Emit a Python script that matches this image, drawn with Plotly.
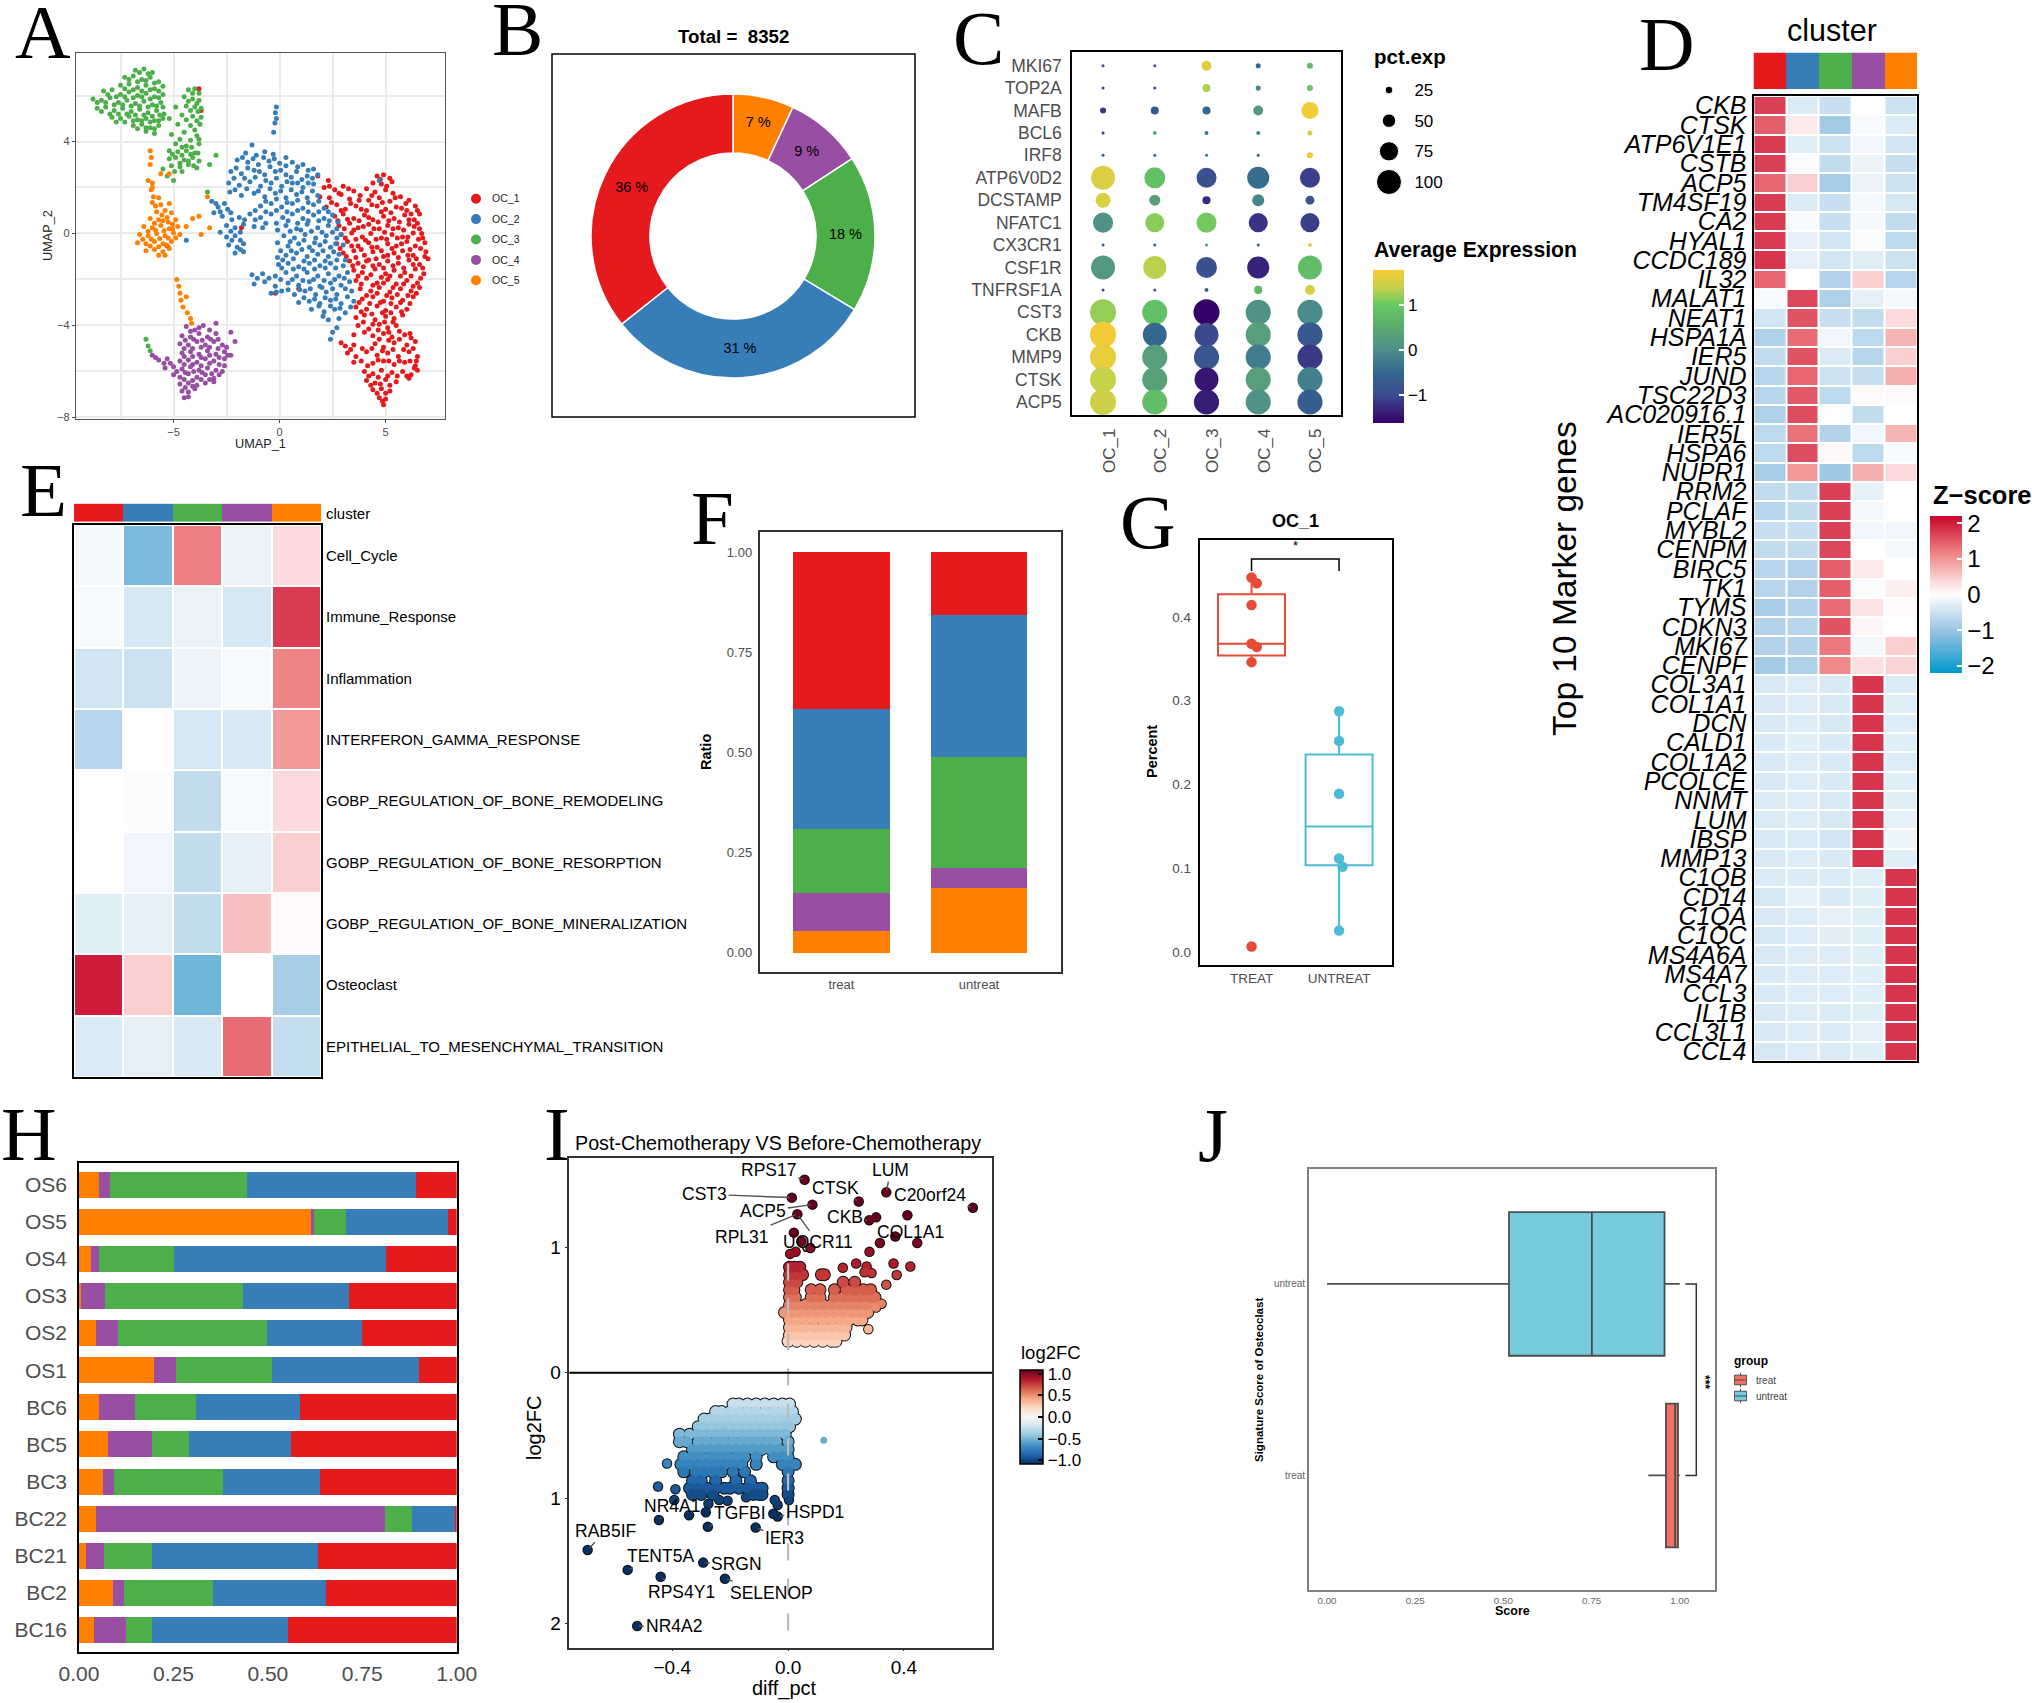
import plotly.graph_objects as go

W, H = 2032, 1703
SET1 = ["#E41A1C", "#377EB8", "#4DAF4A", "#984EA3", "#FF7F00"]
CLUSTERS = ["OC_1", "OC_2", "OC_3", "OC_4", "OC_5"]
SANS = "Liberation Sans"
GREY = "#4d4d4d"

# ---------- A: UMAP points ----------
umap_oc1 = [(4.6,2.5),(4.9,2.55),(5.2,2.4),(2.3,2.3),(4.4,2.2),(4.8,2.15),(5.3,2.25),(2.1,2.0),(2.6,1.9),(3.0,2.05),(3.5,1.85),(4.1,1.95),(4.5,1.8),(5.0,1.9),(5.35,1.75),
(1.9,1.6),(2.35,1.55),(2.9,1.7),(3.3,1.5),(3.8,1.65),(4.2,1.45),(4.7,1.55),(5.2,1.4),(5.7,1.6),(6.1,1.45),(2.2,1.15),(2.7,1.25),(3.1,1.05),(3.6,1.2),(4.1,1.0),(4.6,1.2),(5.0,1.05),(5.5,1.15),(6.0,1.0),(6.4,1.2),
(2.6,0.75),(3.0,0.85),(3.5,0.65),(4.0,0.8),(4.4,0.6),(4.9,0.75),(5.4,0.65),(5.9,0.8),(6.35,0.6),(6.6,0.85),(2.8,0.35),(3.3,0.45),(3.7,0.25),(4.2,0.4),(4.7,0.2),(5.1,0.35),(5.6,0.25),(6.1,0.4),(6.6,0.2),
(2.9,-0.05),(3.4,0.02),(3.9,-0.15),(4.3,0.0),(4.8,-0.2),(5.3,-0.05),(5.8,-0.15),(6.3,0.02),(6.75,-0.2),(2.7,-0.45),(3.2,-0.35),(3.7,-0.55),(4.2,-0.4),(4.6,-0.6),(5.1,-0.45),(5.5,-0.55),(6.0,-0.35),(6.4,-0.55),(6.85,-0.4),
(3.0,-0.85),(3.5,-0.75),(4.0,-0.95),(4.4,-0.8),(4.9,-1.0),(5.4,-0.85),(5.8,-0.75),(6.3,-0.95),(6.9,-0.8),(3.3,-1.2),(3.7,-1.3),(4.2,-1.15),(4.7,-1.35),(5.1,-1.2),(5.6,-1.3),(6.1,-1.15),(6.6,-1.35),(7.0,-1.1),
(3.5,-1.6),(3.9,-1.7),(4.5,-1.55),(5.0,-1.75),(5.4,-1.6),(5.9,-1.7),(6.4,-1.55),(6.8,-1.75),(3.6,-2.05),(4.1,-1.95),(4.6,-2.15),(5.1,-2.0),(5.5,-2.2),(6.0,-2.05),(6.5,-2.15),(3.8,-2.4),(4.3,-2.5),(4.7,-2.35),(5.2,-2.55),(5.7,-2.4),(6.2,-2.5),(6.6,-2.35),
(3.9,-2.85),(4.4,-2.75),(4.9,-2.95),(5.3,-2.8),(5.8,-2.9),(6.3,-2.75),(3.6,-3.2),(4.1,-3.3),(4.6,-3.15),(5.0,-3.35),(5.5,-3.2),(6.0,-3.3),(3.6,-3.65),(4.0,-3.55),(4.5,-3.75),(5.0,-3.6),(5.4,-3.7),(5.8,-3.55),
(3.7,-4.0),(4.2,-4.15),(4.7,-3.95),(5.1,-4.1),(5.5,-4.0),(2.9,-4.75),(3.5,-4.4),(4.4,-4.45),(4.9,-4.35),(5.3,-4.5),(5.9,-4.4),(6.2,-4.55),(3.1,-4.9),(3.5,-4.85),(4.5,-4.8),(4.9,-4.95),(5.4,-4.75),(6.0,-4.85),(6.4,-4.7),
(3.2,-5.2),(3.6,-5.35),(4.1,-5.15),(4.6,-5.3),(5.1,-5.2),(5.6,-5.35),(6.1,-5.15),(6.5,-5.35),(3.5,-5.6),(4.4,-5.65),(4.9,-5.55),(5.4,-5.7),(5.9,-5.6),(6.4,-5.75),(4.0,-6.0),(4.4,-6.1),(4.8,-5.95),(5.3,-6.05),(5.8,-6.0),(6.2,-6.15),(6.5,-5.95),
(4.1,-6.4),(4.5,-6.5),(5.0,-6.35),(5.5,-6.45),(6.1,-6.3),(4.4,-6.8),(4.8,-6.75),(5.2,-6.85),(4.7,-7.15),(5.0,-7.2),(4.9,-7.45),(-3.8,6.3),(-3.7,5.35),(-5.3,-0.55),(-0.2,-2.6),(-1.8,0.25),(0.9,-2.4),(1.8,2.5)]
umap_oc1_more = [(4.75,2.35),(5.05,2.05),(2.35,2.05),(2.8,1.75),(3.25,1.95),(3.75,1.45),(4.35,1.65),(4.85,1.35),(5.45,1.55),(5.95,1.3),(2.45,1.35),(2.9,1.0),(3.35,1.3),(3.85,1.05),(4.35,1.25),(4.8,0.95),(5.25,0.9),(5.75,1.1),(6.2,0.85),(6.5,1.0),
(2.75,0.55),(3.2,0.62),(3.75,0.55),(4.2,0.7),(4.65,0.5),(5.15,0.55),(5.65,0.5),(6.1,0.6),(6.5,0.45),(3.05,0.2),(3.5,0.15),(3.95,0.3),(4.45,0.2),(4.95,0.05),(5.35,0.2),(5.85,0.15),(6.35,0.3),(6.7,0.0),
(3.1,-0.2),(3.6,-0.25),(4.05,-0.3),(4.55,-0.25),(5.05,-0.25),(5.55,-0.2),(6.05,-0.15),(6.55,-0.25),(2.85,-0.65),(3.4,-0.55),(3.85,-0.7),(4.35,-0.6),(4.8,-0.75),(5.3,-0.65),(5.75,-0.45),(6.15,-0.7),(6.65,-0.65),
(3.15,-1.0),(3.6,-1.05),(4.1,-1.2),(4.55,-1.1),(5.1,-0.95),(5.6,-1.05),(6.05,-0.95),(6.45,-1.1),(6.85,-1.0),(3.45,-1.4),(3.95,-1.45),(4.4,-1.4),(4.9,-1.5),(5.35,-1.4),(5.85,-1.5),(6.3,-1.35),(6.75,-1.5),
(3.7,-1.85),(4.3,-1.8),(4.8,-1.9),(5.2,-1.85),(5.7,-1.85),(6.2,-1.85),(6.65,-1.95),(3.85,-2.2),(4.4,-2.25),(4.9,-2.15),(5.35,-2.35),(5.85,-2.2),(6.3,-2.3),(4.1,-2.7),(4.6,-2.6),(5.05,-2.7),(5.55,-2.65),(6.05,-2.7),(6.45,-2.6),
(3.75,-3.0),(4.25,-3.05),(4.75,-3.0),(5.25,-3.05),(5.7,-3.0),(6.15,-3.05),(3.85,-3.4),(4.35,-3.5),(4.85,-3.45),(5.25,-3.45),(5.75,-3.4),(3.95,-3.85),(4.4,-3.95),(4.95,-3.85),(5.35,-3.85),(4.0,-4.3),(4.65,-4.2),(5.15,-4.3),(5.65,-4.25),
(4.7,-4.6),(5.15,-4.65),(5.65,-4.6),(6.15,-4.35),(3.35,-5.05),(3.9,-5.0),(4.35,-5.0),(4.85,-5.1),(5.35,-5.05),(5.85,-5.05),(6.3,-5.0),(3.85,-5.55),(4.15,-5.75),(4.65,-5.5),(5.15,-5.55),(5.65,-5.55),(6.15,-5.55),(6.45,-5.55),
(4.2,-6.2),(4.65,-6.25),(5.1,-6.2),(5.55,-6.2),(6.0,-6.2),(6.35,-5.85),(4.3,-6.6),(4.75,-6.55),(5.2,-6.6),(4.6,-6.95),(5.0,-6.95),(4.85,-7.3)]

umap_oc2 = [(-0.15,5.5),(-0.2,5.25),(-0.15,5.0),(-0.22,4.8),(-0.28,4.4),(-1.3,3.85),(-1.6,3.5),(-0.7,3.55),(-1.1,3.4),(-0.3,3.45),(0.3,3.3),
(-2.0,3.2),(-1.5,3.1),(-1.0,3.0),(-0.5,3.15),(0.0,3.05),(0.6,3.1),(1.1,3.0),(1.6,2.8),(-2.3,2.7),(-1.8,2.6),(-1.2,2.75),(-0.7,2.55),(-0.2,2.7),(0.3,2.55),(0.8,2.7),(1.3,2.5),(1.8,2.55),
(-2.4,2.2),(-1.9,2.1),(-1.4,2.25),(-0.9,2.05),(-0.4,2.2),(0.1,2.05),(0.6,2.2),(1.1,2.0),(1.6,2.15),(-2.35,1.8),(-1.8,1.65),(-1.2,1.75),(-0.7,1.6),(-0.2,1.75),(0.3,1.55),(0.8,1.7),(1.3,1.55),(1.8,1.65),
(-3.2,1.4),(-2.9,1.15),(-2.6,1.3),(-0.9,1.2),(-0.4,1.3),(0.1,1.15),(0.6,1.3),(1.1,1.1),(1.6,1.25),(2.1,1.1),(-3.1,0.9),(-2.7,0.75),(-2.3,0.9),(-1.9,0.7),(-1.4,0.85),(-0.9,0.7),(-0.4,0.85),(0.15,0.7),(0.6,0.85),(1.1,0.65),(1.6,0.8),(2.1,0.65),(2.5,0.8),
(-2.5,0.35),(-2.1,0.25),(-1.7,0.4),(-1.2,0.3),(0.3,0.35),(0.8,0.2),(1.3,0.4),(1.8,0.25),(2.3,0.35),(2.7,0.2),(-2.8,0.05),(-2.5,-0.15),(-2.1,-0.1),(0.2,-0.1),(0.7,-0.2),(1.2,-0.05),(1.7,-0.2),(2.2,-0.1),(2.7,-0.2),
(-2.4,-0.5),(-2.0,-0.6),(-1.7,-0.45),(0.4,-0.55),(0.9,-0.45),(1.4,-0.6),(1.9,-0.5),(2.4,-0.6),(3.0,-0.5),(-2.1,-0.85),(-1.7,-0.8),(0.3,-0.95),(0.8,-0.85),(1.3,-1.0),(1.8,-0.9),(2.3,-1.0),(2.8,-0.9),
(-0.05,-1.35),(0.4,-1.3),(0.9,-1.45),(1.4,-1.3),(1.9,-1.4),(2.4,-1.3),(3.0,-1.4),(-1.3,-1.8),(-0.8,-1.75),(-0.2,-1.85),(0.3,-1.7),(0.8,-1.85),(1.3,-1.7),(1.8,-1.85),(2.3,-1.75),(2.8,-1.85),(3.2,-1.7),
(-1.2,-2.2),(-0.7,-2.1),(-0.2,-2.3),(0.4,-2.15),(0.9,-2.25),(1.4,-2.1),(1.9,-2.3),(2.4,-2.15),(2.9,-2.25),(3.3,-2.1),(-0.4,-2.6),(0.1,-2.5),(0.7,-2.65),(1.2,-2.5),(1.7,-2.65),(2.2,-2.55),(2.7,-2.65),(3.4,-2.5),
(0.9,-3.0),(1.4,-2.95),(1.9,-3.05),(2.4,-2.9),(2.9,-3.05),(3.5,-2.95),(1.5,-3.3),(2.1,-3.4),(2.6,-3.3),(3.1,-3.45),(2.3,-3.75),(2.8,-3.7),(2.5,-4.3),(2.4,-4.6),(2.7,-4.1),(4.7,2.3),(-4.4,-0.3)]
umap_oc2_more = [(-1.75,3.3),(-1.25,3.25),(-0.75,3.3),(-0.25,3.25),(0.3,2.95),(0.85,2.9),(1.35,2.75),(-2.05,2.85),(-1.5,2.85),(-0.95,2.7),(-0.45,2.9),(0.05,2.75),(0.55,2.45),(1.05,2.35),(1.55,2.4),
(-2.15,2.4),(-1.65,2.4),(-1.15,2.45),(-0.65,2.3),(-0.15,2.4),(0.35,2.25),(0.85,2.2),(1.35,2.2),(-2.1,1.9),(-1.55,1.95),(-1.0,1.85),(-0.45,1.95),(0.05,1.85),(0.55,1.9),(1.05,1.8),(1.55,1.85),(-0.65,1.4),(-0.15,1.5),(0.35,1.35),(0.85,1.45),(1.35,1.35),(1.85,1.4),
(-3.0,1.3),(-2.8,0.95),(-2.45,1.05),(-1.15,1.0),(-0.65,0.95),(-0.15,1.0),(0.35,0.95),(0.85,1.0),(1.35,0.95),(1.85,0.95),(2.3,0.95),(-2.25,0.6),(-1.65,0.6),(-1.15,0.6),(-0.65,0.45),(-0.15,0.45),(0.4,0.55),(0.85,0.45),(1.35,0.55),(1.85,0.55),(2.35,0.55),(2.75,0.5),
(-2.3,0.1),(-1.85,0.05),(-0.8,0.25),(-0.1,0.15),(0.5,0.1),(1.0,0.15),(1.5,0.1),(2.0,0.05),(2.5,0.05),(2.9,-0.05),(-2.25,-0.3),(-1.85,-0.3),(-0.1,-0.4),(0.05,-0.75),(0.5,-0.35),(1.15,-0.3),(1.65,-0.4),(2.15,-0.35),(2.65,-0.45),
(-1.85,-0.7),(-0.1,-1.05),(0.55,-0.75),(1.05,-0.7),(1.55,-0.75),(2.05,-0.75),(2.55,-0.8),(0.15,-1.15),(0.65,-1.1),(1.15,-1.2),(1.65,-1.15),(2.15,-1.2),(2.7,-1.15),(3.1,-1.15),(0.1,-1.5),(0.65,-1.55),(1.15,-1.55),(1.65,-1.55),(2.15,-1.5),(2.65,-1.5),
(-1.05,-1.95),(-0.5,-1.95),(0.05,-2.0),(0.6,-2.0),(1.1,-2.05),(1.6,-2.0),(2.1,-2.05),(2.6,-2.0),(3.05,-1.95),(-0.15,-2.55),(0.4,-2.45),(0.95,-2.45),(1.45,-2.4),(2.0,-2.35),(2.5,-2.4),(3.1,-2.4),(1.15,-2.8),(1.65,-2.85),(2.15,-2.8),(2.65,-2.85),(3.2,-2.75),(1.85,-3.15),(2.4,-3.15),(2.85,-3.25),(3.35,-3.2),(2.05,-3.6)]

umap_oc3 = [(-6.8,7.1),(-6.4,7.15),(-6.0,7.0),(-7.3,6.8),(-6.9,6.85),(-6.5,6.7),(-6.1,6.8),(-5.7,6.6),(-7.5,6.45),(-7.1,6.5),(-6.7,6.35),(-6.3,6.45),(-5.9,6.3),(-5.5,6.4),(-8.3,6.2),(-7.9,6.25),(-7.5,6.05),(-7.1,6.15),(-6.7,6.0),(-6.3,6.1),(-5.9,5.95),(-5.5,6.05),
(-8.8,5.85),(-8.4,5.8),(-8.0,5.9),(-7.6,5.7),(-7.2,5.8),(-6.8,5.65),(-6.4,5.75),(-6.0,5.6),(-5.6,5.7),(-8.6,5.45),(-8.2,5.5),(-7.8,5.35),(-7.4,5.45),(-7.0,5.3),(-6.6,5.4),(-6.2,5.25),(-5.8,5.35),(-5.45,5.2),
(-7.9,5.05),(-7.5,5.0),(-7.1,5.1),(-6.7,4.95),(-6.3,5.0),(-5.9,4.9),(-5.5,5.0),(-6.9,4.7),(-6.5,4.75),(-6.1,4.6),(-5.7,4.7),(-6.3,4.45),(-5.9,4.35),
(-4.3,6.25),(-4.0,6.3),(-3.8,6.1),(-4.5,5.95),(-4.1,5.85),(-3.8,5.8),(-4.9,5.5),(-4.4,5.55),(-4.0,5.5),(-3.7,5.45),(-5.2,5.0),(-4.6,5.15),(-4.1,5.1),(-3.7,5.05),(-4.8,4.75),(-4.2,4.7),(-3.75,4.75),(-5.1,4.3),(-4.5,4.4),(-3.9,4.25),
(-4.9,3.9),(-4.4,3.8),(-3.8,3.9),(-5.2,3.6),(-4.8,3.55),(-4.4,3.6),(-4.0,3.5),(-5.2,3.25),(-4.9,3.3),(-4.5,3.2),(-4.1,3.3),(-3.8,3.15),(-5.1,2.95),(-4.7,2.9),(-4.3,3.0),(-3.9,2.85),(-5.5,2.8),(-5.3,2.5),(-4.6,2.7),(-5.0,2.3),(-3.4,1.8),(-6.3,-4.6),(-6.2,-4.9),(-6.1,-5.1),(-3.0,3.4),(-3.3,3.0)]
umap_oc3_more = [(-6.6,7.0),(-6.2,6.95),(-7.1,6.7),(-6.7,6.6),(-6.3,6.65),(-5.9,6.55),(-7.3,6.3),(-6.9,6.25),(-6.5,6.2),(-6.1,6.25),(-5.7,6.2),(-8.1,6.05),(-7.7,5.95),(-7.3,5.95),(-6.9,5.9),(-6.5,5.95),(-6.1,5.85),(-5.7,5.9),
(-8.6,5.7),(-8.2,5.7),(-7.8,5.6),(-7.4,5.6),(-7.0,5.55),(-6.6,5.55),(-6.2,5.5),(-5.8,5.55),(-5.5,5.5),(-8.4,5.3),(-8.0,5.2),(-7.6,5.2),(-7.2,5.2),(-6.8,5.15),(-6.4,5.15),(-6.0,5.1),(-5.65,5.15),(-7.7,4.85),(-7.3,4.85),(-6.9,4.9),(-6.5,4.9),(-6.1,4.85),(-5.7,4.9),(-6.7,4.55),(-6.3,4.6),(-5.9,4.55),
(-4.1,6.1),(-4.3,5.75),(-3.9,5.65),(-4.2,5.35),(-3.85,5.3),(-3.9,4.9),(-4.4,4.95),(-4.0,4.5),(-4.7,4.1),(-4.2,4.05),(-3.8,4.1),(-4.6,3.75),(-4.15,3.75),(-5.05,3.45),(-4.6,3.4),(-4.2,3.45),(-3.85,3.5),(-4.7,3.05),(-4.3,3.15),(-4.05,2.95),(-4.95,2.7)]

umap_oc4 = [(-4.4,-4.05),(-4.0,-4.2),(-3.6,-4.0),(-3.0,-3.9),(-4.6,-4.45),(-4.2,-4.5),(-3.8,-4.35),(-3.4,-4.5),(-3.0,-4.35),(-2.3,-4.3),(-4.7,-4.8),(-4.3,-4.85),(-3.9,-4.7),(-3.5,-4.85),(-3.1,-4.7),(-2.7,-4.85),(-2.1,-4.7),
(-6.0,-5.3),(-4.6,-5.2),(-4.2,-5.15),(-3.8,-5.25),(-3.4,-5.1),(-3.0,-5.25),(-2.6,-5.15),(-5.7,-5.5),(-5.3,-5.45),(-4.7,-5.55),(-4.3,-5.5),(-3.9,-5.6),(-3.5,-5.45),(-3.1,-5.55),(-2.6,-5.45),(-2.3,-5.3),
(-5.4,-5.85),(-5.0,-5.8),(-4.6,-5.9),(-4.2,-5.8),(-3.8,-5.95),(-3.4,-5.85),(-3.0,-5.95),(-2.6,-5.75),(-5.0,-6.15),(-4.7,-6.25),(-4.3,-6.1),(-3.9,-6.25),(-3.5,-6.15),(-3.1,-6.3),(-2.7,-6.0),
(-4.7,-6.55),(-4.3,-6.5),(-3.9,-6.6),(-3.5,-6.5),(-3.1,-6.45),(-4.6,-6.85),(-4.3,-6.9),(-4.0,-6.75),(-4.5,-7.15),(-4.3,-7.1)]
umap_oc4_more = [(-4.2,-4.25),(-3.8,-4.1),(-3.3,-4.2),(-4.45,-4.65),(-4.05,-4.6),(-3.65,-4.65),(-3.25,-4.6),(-2.9,-4.6),(-4.5,-5.0),(-4.1,-5.0),(-3.7,-4.95),(-3.3,-4.95),(-2.9,-5.0),(-2.5,-4.95),(-5.85,-5.4),(-5.45,-5.65),(-4.5,-5.35),(-4.1,-5.35),(-3.7,-5.4),(-3.3,-5.3),(-2.85,-5.4),(-2.45,-5.3),
(-5.15,-5.65),(-4.5,-5.7),(-4.1,-5.7),(-3.7,-5.75),(-3.3,-5.65),(-2.85,-5.7),(-4.85,-6.0),(-4.45,-6.05),(-4.05,-6.0),(-3.65,-6.05),(-3.2,-6.1),(-2.85,-6.15),(-4.5,-6.35),(-4.1,-6.4),(-3.7,-6.35),(-3.3,-6.35),(-4.45,-6.7),(-4.1,-6.65)]

umap_oc5 = [(-6.1,3.6),(-6.05,3.3),(-6.1,3.0),(-5.2,2.6),(-5.6,2.6),(-6.2,2.3),(-6.0,2.2),(-6.05,1.9),(-5.95,1.6),(-5.7,1.55),(-6.0,1.35),(-5.6,1.25),(-5.2,1.3),(-3.4,1.6),(-5.8,0.95),(-5.4,1.0),(-5.1,0.9),
(-6.1,0.65),(-5.7,0.6),(-5.3,0.7),(-4.9,0.6),(-4.1,0.65),(-3.8,0.75),(-6.4,0.3),(-6.0,0.25),(-5.6,0.35),(-5.2,0.2),(-4.8,0.3),(-4.4,0.3),(-3.3,0.25),(-6.6,-0.05),(-6.2,-0.1),(-5.8,0.0),(-5.4,-0.1),(-5.0,0.02),(-4.7,-0.05),(-3.7,-0.05),
(-6.7,-0.4),(-6.3,-0.45),(-5.9,-0.35),(-5.5,-0.45),(-5.1,-0.35),(-6.3,-0.75),(-5.9,-0.7),(-5.5,-0.8),(-5.2,-0.65),(-5.4,-0.95),(-4.85,-2.0),(-4.75,-2.3),(-4.7,-2.6),(-4.65,-2.9),(-4.4,-2.75),(-4.55,-3.2),(-4.35,-3.45),(-4.2,-3.7),(-4.15,-3.9)]
umap_oc5_more = [(-5.55,0.8),(-5.25,0.5),(-5.9,0.45),(-5.5,0.55),(-5.05,0.4),(-6.2,0.1),(-5.85,0.15),(-5.45,0.12),(-5.05,0.2),(-6.45,-0.25),(-6.05,-0.25),(-5.65,-0.22),(-5.25,-0.2),(-4.9,-0.2),(-6.1,-0.55),(-5.7,-0.58),(-5.35,-0.5),(-5.7,-0.95),(-6.0,2.0),(-5.85,1.2)]

umap_all = [umap_oc1 + umap_oc1_more, umap_oc2 + umap_oc2_more, umap_oc3 + umap_oc3_more, umap_oc4 + umap_oc4_more, umap_oc5 + umap_oc5_more]

# ---------- B ----------
donut_labels = ["OC_5", "OC_4", "OC_3", "OC_2", "OC_1"]
donut_values = [7, 9, 18, 31, 36]
donut_text = ["7 %", "9 %", "18 %", "31 %", "36 %"]

# ---------- C ----------
dot_genes = ["MKI67","TOP2A","MAFB","BCL6","IRF8","ATP6V0D2","DCSTAMP","NFATC1","CX3CR1","CSF1R","TNFRSF1A","CST3","CKB","MMP9","CTSK","ACP5"]
dot_pct = [[0,0,30,9,13],[0,0,22,9,13],[13,22,22,30,61],[0,4,4,4,9],[0,0,0,0,13],
           [91,78,74,83,74],[52,35,22,39,26],[74,70,74,70,70],[0,0,0,0,4],[91,87,78,83,91],
           [0,0,4,22,30],[100,96,100,96,96],[100,91,91,96,96],[100,96,96,96,96],[100,96,91,96,96],[100,96,96,96,96]]
dot_avg = [[-0.9,-0.9,1.6,-0.5,0.8],[-1,-1,1.3,-0.1,0.9],[-1.2,-0.7,-0.5,0.2,1.75],[-1.2,0.4,-0.3,-0.2,1.5],[-0.7,-0.5,-0.4,-0.6,1.7],
           [1.55,0.85,-0.9,-0.45,-1.1],[1.55,0.3,-1.3,-0.1,-0.8],[0.05,1.15,1.05,-1.2,-1.1],[-0.8,-0.5,0.3,-0.7,1.6],[0.2,1.35,-0.9,-1.35,0.8],
           [-0.9,-0.9,-0.8,0.7,1.55],[1.2,0.85,-1.6,0.05,-0.05],[1.75,-0.5,-1.0,0.3,-0.75],[1.65,0.3,-0.8,-0.25,-1.15],[1.4,0.35,-1.45,0.3,-0.2],[1.45,0.8,-1.4,0.05,-0.7]]
pct_levels = [25, 50, 75, 100]

# ---------- D ----------
marker_genes = ["CKB","CTSK","ATP6V1E1","CSTB","ACP5","TM4SF19","CA2","HYAL1","CCDC189","IL32","MALAT1","NEAT1","HSPA1A","IER5","JUND","TSC22D3","AC020916.1","IER5L","HSPA6","NUPR1",
 "RRM2","PCLAF","MYBL2","CENPM","BIRC5","TK1","TYMS","CDKN3","MKI67","CENPF","COL3A1","COL1A1","DCN","CALD1","COL1A2","PCOLCE","NNMT","LUM","IBSP","MMP13",
 "C1QB","CD14","C1QA","C1QC","MS4A6A","MS4A7","CCL3","IL1B","CCL3L1","CCL4"]
marker_z = [[1.7,-.35,-.55,0,-.5],[1.45,.2,-.9,-.07,-.35],[1.75,-.3,-.5,-.15,-.45],[1.7,-.05,-.6,-.2,-.55],[1.4,.45,-.85,-.2,-.5],
 [1.75,-.35,-.55,-.12,-.4],[1.75,-.07,-.55,-.1,-.6],[1.75,-.25,-.45,-.05,-.65],[1.8,-.25,-.45,-.3,-.5],[1.4,0,-.75,.45,-.7],
 [-.07,1.65,-.8,-.27,-.12],[-.45,1.55,-.55,-.6,.35],[-.8,1.35,-.15,-.65,.7],[-.6,1.55,-.35,-.7,.45],[-.7,1.4,-.5,-.55,.75],
 [-.7,1.5,-.65,.05,.05],[-.8,1.6,-.03,-.6,0],[-.65,1.3,-.75,-.15,.7],[-.65,1.6,.07,-.65,-.07],[-.85,.95,-.95,.75,.35],
 [-.6,-.6,1.7,-.25,0],[-.7,-.6,1.7,-.12,-.04],[-.55,-.55,1.7,-.15,-.15],[-.6,-.6,1.65,0,-.1],[-.7,-.75,1.45,.2,0],
 [-.7,-.75,1.45,-.05,.15],[-.85,-.75,1.35,.25,.05],[-.75,-.7,1.55,.08,-.04],[-.75,-.75,1.25,-.13,.45],[-.9,-.8,1.1,.3,.4],
 [-.37,-.33,-.37,1.8,-.35],[-.37,-.33,-.37,1.8,-.3],[-.37,-.33,-.4,1.8,-.33],[-.37,-.3,-.37,1.8,-.3],[-.37,-.33,-.37,1.8,-.33],
 [-.37,-.33,-.37,1.8,-.3],[-.35,-.33,-.37,1.8,-.28],[-.35,-.33,-.4,1.8,-.25],[-.37,-.35,-.45,1.8,-.18],[-.37,-.33,-.37,1.8,-.3],
 [-.35,-.35,-.35,-.3,1.8],[-.42,-.25,-.37,-.3,1.8],[-.37,-.33,-.27,-.3,1.8],[-.4,-.33,-.28,-.3,1.8],[-.37,-.33,-.33,-.3,1.8],
 [-.37,-.33,-.33,-.3,1.8],[-.37,-.33,-.33,-.3,1.8],[-.37,-.33,-.35,-.3,1.8],[-.37,-.33,-.35,-.25,1.8],[-.42,-.33,-.35,-.3,1.8]]

# ---------- E ----------
pathways = ["Cell_Cycle","Immune_Response","Inflammation","INTERFERON_GAMMA_RESPONSE","GOBP_REGULATION_OF_BONE_REMODELING",
            "GOBP_REGULATION_OF_BONE_RESORPTION","GOBP_REGULATION_OF_BONE_MINERALIZATION","Osteoclast","EPITHELIAL_TO_MESENCHYMAL_TRANSITION"]
pathway_z = [[-.1,-1.25,1.2,-.2,.35],[-.08,-.4,-.2,-.4,1.75],[-.45,-.5,-.17,-.08,1.15],[-.7,.02,-.4,-.38,.95],[-.03,-.05,-.6,-.08,.35],
             [0,-.15,-.6,-.27,.45],[-.3,-.25,-.6,.6,.05],[2.0,.45,-1.35,0,-.85],[-.35,-.27,-.38,1.35,-.58]]

# ---------- F ----------
ratio_groups = ["treat", "untreat"]
ratio_oc5 = [0.054, 0.161]
ratio_oc4 = [0.094, 0.050]
ratio_oc3 = [0.161, 0.278]
ratio_oc2 = [0.298, 0.354]
ratio_oc1 = [0.393, 0.157]

# ---------- G ----------
g_treat_pts = [(1.0,.447),(1.06,.44),(1.0,.414),(1.0,.368),(1.06,.364),(1.0,.346),(1.0,.007)]
g_untreat_pts = [(2.0,.2875),(2.0,.252),(2.0,.189),(2.0,.112),(2.04,.102),(2.0,.026)]
g_treat_box = dict(q1=[.354], median=[.368], q3=[.427], lowerfence=[.346], upperfence=[.447])
g_untreat_box = dict(q1=[.104], median=[.150], q3=[.236], lowerfence=[.026], upperfence=[.2875])

# ---------- H ----------
samples = ["OS6","OS5","OS4","OS3","OS2","OS1","BC6","BC5","BC3","BC22","BC21","BC2","BC16"]
cum_oc5 = [.054,.613,.031,.006,.044,.198,.053,.076,.063,.044,.018,.090,.041]
cum_oc4 = [.082,.622,.054,.070,.103,.257,.149,.194,.093,.809,.066,.119,.125]
cum_oc3 = [.445,.708,.252,.433,.497,.511,.311,.290,.380,.881,.194,.355,.194]
cum_oc2 = [.891,.976,.813,.714,.750,.901,.586,.561,.637,.996,.633,.655,.554]

# ---------- I ----------
up_rows = [(.25,[0,.03,.06,.09,.12,.15,.165]),(.30,[.005,.03,.06,.085,.115,.145,.175,.195]),(.36,[.005,.03,.06,.09,.12,.15,.18,.2]),
 (.42,[.005,.03,.06,.09,.12,.15,.18,.21,.24,.255]),(.48,[-.012,.015,.04,.07,.1,.13,.16,.19,.22,.25,.275]),(.54,[.005,.03,.06,.09,.12,.15,.18,.21,.24,.27,.3]),
 (.60,[.005,.025,.08,.11,.16,.19,.22,.25,.28,.3]),(.66,[.005,.02,.08,.11,.16,.2,.23,.26,.285]),(.72,[.005,.03,.19,.23]),
 (.78,[.005,.025,.05,.115,.125]),(.84,[.005,.02,.04])]
up_single = [(.057,1.537),(.013,1.394),(.244,1.363),(.339,1.436),(.638,1.314),(.084,1.338),(.28,1.213),(.304,1.237),(.412,1.253),(.032,1.262),
 (.37,1.084),(.317,1.032),(.446,1.032),(.281,.962),(.02,1.115),(.046,1.044),(.007,.946),(.026,.962),(.077,.992),(.189,.836),(.235,.87),(.271,.845),
 (.288,.793),(.264,.799),(.364,.87),(.375,.778),(.422,.845),(.339,.701),(.304,.518),(.323,.548),(.277,.346)]
down_rows = [(-.25,[-.19,-.17,-.14,-.11,-.08,-.05,-.02,.005]),(-.31,[-.25,-.23,-.2,-.17,-.14,-.11,-.08,-.05,-.02,.015]),
 (-.37,[-.29,-.27,-.24,-.21,-.18,-.15,-.12,-.09,-.06,-.03,0,.025]),(-.43,[-.31,-.29,-.26,-.23,-.2,-.17,-.14,-.11,-.08,-.05,-.02,.005]),
 (-.49,[-.375,-.34,-.31,-.28,-.25,-.22,-.19,-.16,-.13,-.1,-.07,-.04,-.01]),(-.55,[-.375,-.35,-.31,-.28,-.25,-.22,-.19,-.16,-.13,-.1,-.07,-.04,0]),
 (-.61,[-.33,-.3,-.27,-.24,-.21,-.18,-.15,-.12,-.09,-.06,-.03,0]),(-.67,[-.36,-.33,-.3,-.27,-.24,-.21,-.18,-.15,-.11,-.05,-.02,0]),
 (-.73,[-.37,-.34,-.31,-.28,-.25,-.22,-.19,-.16,-.11,-.02,.01,.025]),(-.79,[-.36,-.32,-.29,-.26,-.23,-.19,-.15,0]),
 (-.86,[-.33,-.3,-.25,-.18,-.13,0]),(-.92,[-.34,-.31,-.28,-.25,-.22,-.2,-.17,-.14,-.11,-.09,0]),(-.97,[-.33,-.3,-.26,-.12,-.1,-.09,0])]
down_single = [(-.449,-.907),(-.389,-.928),(-.393,-1.014),(-.275,-1.044),(-.238,-1.014),(-.209,-1.02),(-.145,-.992),(-.046,-1.014),(-.036,-1.054),(.003,-1.014),
 (-.342,-1.136),(-.284,-1.112),(-.051,-1.124),(-.036,-1.145),(-.277,-1.228),(-.112,-1.234),(-.446,-1.173),(-.692,-1.412),(-.554,-1.571),(-.44,-1.626),
 (-.293,-1.513),(-.218,-1.642),(-.521,-2.018),(-.418,-.723),(-.363,-.784)]
lone_point = (.123, -.539)
volcano_labels = [("RPS17",.057,1.537,-.066,1.614),("CST3",.013,1.394,-.288,1.421),("CTSK",.244,1.363,.165,1.473),("LUM",.339,1.436,.354,1.614),
 ("C20orf24",.638,1.314,.49,1.415),("ACP5",.084,1.338,-.086,1.286),("CKB",.28,1.213,.198,1.237),("RPL31",.032,1.262,-.158,1.084),("UQCR11",.032,1.262,.103,1.038),
 ("COL1A1",.37,1.084,.422,1.118),("NR4A1",-.446,-1.173,-.4,-1.06),("TGFBI",-.277,-1.228,-.165,-1.121),("HSPD1",-.036,-1.145,.092,-1.109),("IER3",-.112,-1.234,-.013,-1.32),
 ("RAB5IF",-.692,-1.412,-.63,-1.259),("TENT5A",-.554,-1.571,-.44,-1.461),("SRGN",-.293,-1.513,-.177,-1.525),("RPS4Y1",-.44,-1.626,-.367,-1.743),
 ("SELENOP",-.218,-1.642,-.057,-1.752),("NR4A2",-.521,-2.018,-.395,-2.021)]

# ---------- J ----------
j_treat = dict(q1=[.961], median=[.987], q3=[.995], lowerfence=[.911], upperfence=[1.0])
j_untreat = dict(q1=[.516], median=[.751], q3=[.957], lowerfence=[0.0], upperfence=[1.0])
j_key_treat = dict(q1=[.2], median=[.5], q3=[.8], lowerfence=[.05], upperfence=[.95])
j_key_untreat = dict(q1=[1.2], median=[1.5], q3=[1.8], lowerfence=[1.05], upperfence=[1.95])

# ---------- helpers ----------
fig = go.Figure()
layout_axes, annotations, shapes = {}, [], []

def axes(n, box, xkw=None, ykw=None):
    x0, x1, y0, y1 = box
    xd = dict(domain=[x0 / W, x1 / W], anchor=f"y{n}", showgrid=False, zeroline=False)
    yd = dict(domain=[1 - y1 / H, 1 - y0 / H], anchor=f"x{n}", showgrid=False, zeroline=False)
    xd.update(xkw or {}); yd.update(ykw or {})
    layout_axes[f"xaxis{n}"] = xd
    layout_axes[f"yaxis{n}"] = yd
    return dict(xaxis=f"x{n}", yaxis=f"y{n}")

def text(t, x, y, size, color="black", bold=False, angle=0, family=SANS, xanchor="center"):
    s = f"<b>{t}</b>" if bold else t
    annotations.append(dict(text=s, x=x / W, y=1 - y / H, xref="paper", yref="paper", showarrow=False, textangle=angle,
                            xanchor=xanchor, yanchor="middle", font=dict(size=size, color=color, family=family)))

def frame(color="black", width=1.5):
    return dict(showline=True, mirror=True, linecolor=color, linewidth=width)

def tf(size, color=GREY):
    return dict(size=size, color=color, family=SANS)

NOTICK = "rgba(0,0,0,0)"

# panel letters
for letter, x, y in [("A",43,32),("B",517,29),("C",978,38),("D",1667,44),("E",43,490),("F",712,518),("G",1148,522),("H",29,1134),("I",557,1134),("J",1213,1135)]:
    text(letter, x, y, 77, family="Liberation Serif")

# A
a = axes(1, (76,445,53,419),
    dict(range=[-9.6,7.8], tickvals=[-5,0,5], showgrid=True, gridcolor="#ebebeb", gridwidth=1.5, minor=dict(tickvals=[-7.5,-2.5,2.5], showgrid=True, gridcolor="#ebebeb", gridwidth=1.5, ticks=""),
         ticks="outside", ticklen=3, tickcolor=GREY, tickfont=tf(11), **frame("#555555",1.2)),
    dict(range=[-8.07,7.85], tickvals=[-8,-4,0,4], showgrid=True, gridcolor="#ebebeb", gridwidth=1.5, minor=dict(tickvals=[-6,-2,2,6], showgrid=True, gridcolor="#ebebeb", gridwidth=1.5, ticks=""),
         ticks="outside", ticklen=3, tickcolor=GREY, tickfont=tf(11), **frame("#555555",1.2)))
for name, pts, col in zip(CLUSTERS, umap_all, SET1):
    fig.add_trace(go.Scatter(x=[p[0] for p in pts], y=[p[1] for p in pts], mode="markers", name=name,
                             marker=dict(color=col, size=5), showlegend=False, **a))
text("UMAP_1", 260, 444, 12.7, "#222222")
text("UMAP_2", 48, 236, 12.7, "#222222", angle=-90)
a_key = axes(13, (470,482,188.5,290.5), dict(range=[0,1], visible=False),
    dict(type="category", categoryorder="array", categoryarray=CLUSTERS, range=[4.5,-.5], side="right", tickfont=tf(10.5,"#222222"), ticks="outside", ticklen=7, tickcolor=NOTICK, showline=False))
fig.add_trace(go.Scatter(x=[.5]*5, y=CLUSTERS, mode="markers", marker=dict(color=SET1, size=10), showlegend=False, **a_key))

# B
fig.add_trace(go.Pie(labels=donut_labels, values=donut_values, text=donut_text, textinfo="text", sort=False, direction="clockwise", rotation=0, hole=0.585,
                     marker=dict(colors=[SET1[4],SET1[3],SET1[2],SET1[1],SET1[0]], line=dict(color="white", width=1.5)),
                     textposition="inside", insidetextorientation="horizontal", textfont=dict(size=14.5, color="black", family=SANS),
                     domain=dict(x=[591/W,875/W], y=[1-378/H,1-94/H]), showlegend=False))
shapes.append(dict(type="rect", xref="paper", yref="paper", x0=552/W, x1=915/W, y0=1-417/H, y1=1-54/H, line=dict(color="black", width=1.5)))
text("Total =  8352", 733, 36, 18.7, bold=True)

# C
c = axes(2, (1072,1341,52,415),
    dict(type="category", categoryorder="array", categoryarray=CLUSTERS, range=[-.6,4.6], tickangle=-90, tickfont=tf(17), ticks="outside", ticklen=5, tickcolor=NOTICK, ticklabelshift=6, **frame()),
    dict(type="category", categoryorder="array", categoryarray=dot_genes, range=[15.58,-.61], tickfont=tf(17.5), ticks="outside", ticklen=5, tickcolor=NOTICK, **frame()))
dx, dy, ds, dc = [], [], [], []
for gene, ps, vs in zip(dot_genes, dot_pct, dot_avg):
    for cl, p, v in zip(CLUSTERS, ps, vs):
        dx.append(cl); dy.append(gene); ds.append(3 + .23 * p); dc.append(v)
fig.add_trace(go.Scatter(x=dx, y=dy, mode="markers", marker=dict(size=ds, color=dc, coloraxis="coloraxis", opacity=1, line=dict(width=0)), showlegend=False, **c))
p_ax = axes(3, (1373,1405,75,197),
    dict(range=[0,1], visible=False),
    dict(type="category", categoryorder="array", categoryarray=[str(v) for v in pct_levels], range=[3.49,-.49], side="right", tickfont=tf(17,"black"), ticks="outside", ticklen=5, tickcolor=NOTICK, showline=False))
fig.add_trace(go.Scatter(x=[.5]*4, y=[str(v) for v in pct_levels], mode="markers", marker=dict(color="black", opacity=1, size=[3+.23*v-1 for v in pct_levels]), showlegend=False, **p_ax))
text("pct.exp", 1372, 56, 20.5, bold=True, xanchor="left")
text("Average Expression", 1372, 250, 21.2, bold=True, xanchor="left")

# D
topz = [[0,1,2,3,4]]
discrete = [[0,SET1[0]],[.2,SET1[0]],[.2,SET1[1]],[.4,SET1[1]],[.4,SET1[2]],[.6,SET1[2]],[.6,SET1[3]],[.8,SET1[3]],[.8,SET1[4]],[1,SET1[4]]]
dt = axes(4, (1753.5,1917,52.5,89), dict(visible=False), dict(visible=False))
fig.add_trace(go.Heatmap(z=topz, x=CLUSTERS, y=["cluster"], colorscale=discrete, zmin=0, zmax=4, showscale=False, **dt))
d = axes(5, (1753.5,1917,96,1061),
    dict(type="category", categoryorder="array", categoryarray=CLUSTERS, range=[-.5,4.5], showticklabels=False, **frame("black",2)),
    dict(type="category", categoryorder="array", categoryarray=marker_genes, range=[49.5,-.5], tickmode="array", tickvals=marker_genes, ticktext=marker_genes,
         tickfont=dict(size=25, color="black", family=SANS, style="italic"), ticks="", **frame("black",2)))
fig.add_trace(go.Heatmap(z=marker_z, x=CLUSTERS, y=marker_genes, coloraxis="coloraxis2", xgap=2, ygap=2, **d))
text("cluster", 1832, 30, 30.5)
text("Top 10 Marker genes", 1564, 579, 33.5, angle=-90)
text("Z−score", 1931, 495, 25.5, bold=True, xanchor="left")

# E
et = axes(6, (74,321,503.6,522), dict(visible=False), dict(visible=False))
fig.add_trace(go.Heatmap(z=topz, x=CLUSTERS, y=["cluster"], colorscale=discrete, zmin=0, zmax=4, showscale=False, **et))
e = axes(7, (74,321,525,1077),
    dict(type="category", categoryorder="array", categoryarray=CLUSTERS, range=[-.5,4.5], showticklabels=False, **frame("black",2)),
    dict(type="category", categoryorder="array", categoryarray=pathways, range=[8.5,-.5], side="right", tickfont=tf(15,"black"), ticks="", **frame("black",2)))
fig.add_trace(go.Heatmap(z=pathway_z, x=CLUSTERS, y=pathways, coloraxis="coloraxis2", xgap=2, ygap=2, **e))
text("cluster", 324, 513.5, 15, xanchor="left")

# F
f = axes(8, (759.5,1061,532,972),
    dict(type="category", categoryorder="array", categoryarray=ratio_groups, range=[-.595,1.596], tickfont=tf(13), ticks="", **frame("#333333",1.5)),
    dict(range=[-.0487,1.05], tickvals=[0,.25,.5,.75,1], tickformat=".2f", tickfont=tf(13), ticks="outside", ticklen=3, tickcolor=NOTICK, **frame("#333333",1.5)))
for vals, col in zip([ratio_oc5,ratio_oc4,ratio_oc3,ratio_oc2,ratio_oc1], [SET1[4],SET1[3],SET1[2],SET1[1],SET1[0]]):
    fig.add_trace(go.Bar(x=ratio_groups, y=vals, marker=dict(color=col, line=dict(width=0)), width=.7, showlegend=False, **f))
text("Ratio", 706, 752, 14.5, bold=True, angle=-90)

# G
g = axes(9, (1199.6,1391.6,540,965),
    dict(range=[.407,2.6], tickvals=[1,2], ticktext=["TREAT","UNTREAT"], tickfont=tf(13.5), ticks="", **frame("black",1.5)),
    dict(range=[-.015,.4916], tickvals=[0,.1,.2,.3,.4], tickformat=".1f", tickfont=tf(13.5), ticks="outside", ticklen=4, tickcolor=NOTICK, **frame("black",1.5)))
for xpos, box, pts, col in [(1,g_treat_box,g_treat_pts,"#E64B35"),(2,g_untreat_box,g_untreat_pts,"#4DBBD5")]:
    fig.add_trace(go.Box(x=[xpos], width=.765, whiskerwidth=0, line=dict(color=col, width=2), fillcolor="rgba(0,0,0,0)", showlegend=False, boxpoints=False, **box, **g))
    fig.add_trace(go.Scatter(x=[p[0] for p in pts], y=[p[1] for p in pts], mode="markers", marker=dict(color=col, size=10.5), showlegend=False, **g))
fig.add_trace(go.Scatter(x=[1,1,2,2], y=[.4545,.469,.469,.4545], mode="lines", line=dict(color="black", width=1.5), showlegend=False, **g))
text("*", 1295, 545, 13)
text("OC_1", 1295, 521, 18, bold=True)
text("Percent", 1152, 752, 14.5, bold=True, angle=-90)

# H
h = axes(10, (79,456.7,1162.7,1652),
    dict(range=[0,1], tickvals=[0,.25,.5,.75,1], tickformat=".2f", tickfont=tf(21), ticks="outside", ticklen=2, tickcolor=NOTICK, **frame("black",1.5)),
    dict(type="category", categoryorder="array", categoryarray=samples, range=[12.59,-.59], tickfont=tf(21), ticks="outside", ticklen=6, tickcolor=NOTICK, **frame("black",1.5)))
prev = [0.0]*len(samples)
for cum, col in zip([cum_oc5,cum_oc4,cum_oc3,cum_oc2,[1.0]*len(samples)], [SET1[4],SET1[3],SET1[2],SET1[1],SET1[0]]):
    fig.add_trace(go.Bar(y=samples, x=[a2-b2 for a2,b2 in zip(cum,prev)], base=prev, orientation="h", width=.7, marker=dict(color=col, line=dict(width=0)), showlegend=False, **h))
    prev = cum

# I
iax = axes(11, (569.4,992,1157.7,1648),
    dict(range=[-.755,.704], tickvals=[-.4,0,.4], ticktext=["−0.4","0.0","0.4"], tickfont=tf(19,"black"), ticks="outside", ticklen=1, tickcolor="#333333", **frame("#333333",1.5)),
    dict(range=[-2.193,1.712], tickvals=[1,0,-1,-2], ticktext=["1","0","1","2"], tickfont=tf(19,"black"), ticks="outside", ticklen=3, tickcolor="#333333", **frame("#333333",1.5)))
mx, my, sx, sy = [], [], [], []
for yv, xs in up_rows + down_rows:
    for xv in xs:
        mx.append(xv); my.append(yv)
for xv, yv in up_single + down_single:
    sx.append(xv); sy.append(yv)
fig.add_trace(go.Scatter(x=mx, y=my, mode="markers", marker=dict(color="#111111", size=13), showlegend=False, **iax))
fig.add_trace(go.Scatter(x=sx, y=sy, mode="markers", marker=dict(color="#111111", size=10.5), showlegend=False, **iax))
fig.add_trace(go.Scatter(x=mx, y=my, mode="markers", marker=dict(color=my, coloraxis="coloraxis3", size=11), showlegend=False, **iax))
fig.add_trace(go.Scatter(x=sx, y=sy, mode="markers", marker=dict(color=sy, coloraxis="coloraxis3", size=8.5), showlegend=False, **iax))
fig.add_trace(go.Scatter(x=[lone_point[0]], y=[lone_point[1]], mode="markers", marker=dict(color=[lone_point[1]], coloraxis="coloraxis3", size=7), showlegend=False, **iax))
fig.add_trace(go.Scatter(x=[0,0], y=[.87,-2.193], mode="lines", line=dict(color="#bdbdbd", width=2.2, dash="17px,18px"), showlegend=False, **iax))
shapes.append(dict(type="line", xref="x11 domain", yref="y11", x0=0, x1=1, y0=0, y1=0, line=dict(color="black", width=2)))
for name, px_, py_, tx, ty in volcano_labels:
    annotations.append(dict(text=name, x=px_, y=py_, xref="x11", yref="y11", ax=tx, ay=ty, axref="x11", ayref="y11", showarrow=True, arrowhead=0,
                            arrowwidth=1.4, arrowcolor="#555555", font=dict(size=17.5, color="black", family=SANS), standoff=2))
text("Post-Chemotherapy VS Before-Chemotherapy", 778, 1143, 19.7)
text("diff_pct", 784, 1688, 20)
text("log2FC", 534, 1428, 20, angle=-90)
text("log2FC", 1051, 1352, 18.5)

# J
j = axes(12, (1309,1715,1169,1590),
    dict(range=[-.051,1.10], tickvals=[0,.25,.5,.75,1], tickformat=".2f", tickfont=tf(9.8,"#666666"), ticks="", **frame("#7f7f7f",1.8)),
    dict(range=[.402,2.6], tickvals=[1,2], ticktext=["treat","untreat"], tickfont=tf(10,"#666666"), ticks="", **frame("#7f7f7f",1.8)))
fig.add_trace(go.Box(y=[1], width=.75, orientation="h", whiskerwidth=0, name="treat", fillcolor="#EE7364", line=dict(color="#4d4d4d", width=1.8), showlegend=False, boxpoints=False, **j_treat, **j))
fig.add_trace(go.Box(y=[2], width=.75, orientation="h", whiskerwidth=0, name="untreat", fillcolor="#76CBDD", line=dict(color="#4d4d4d", width=1.8), showlegend=False, boxpoints=False, **j_untreat, **j))
fig.add_trace(go.Scatter(x=[1.016,1.047,1.047,1.016], y=[2,2,1,1], mode="lines", line=dict(color="#333333", width=1.5), showlegend=False, **j))
text("***", 1705, 1382, 12, bold=True, angle=90)
text("Score", 1512, 1611, 12.5, bold=True)
text("Signature Score of Osteoclast", 1259, 1380, 11.5, bold=True, angle=-90)
text("group", 1732, 1361, 12, bold=True, xanchor="left")
j_key = axes(14, (1734,1747,1372,1404), dict(range=[-.5,.5], visible=False),
    dict(range=[2,0], tickvals=[.5,1.5], ticktext=["treat","untreat"], side="right", tickfont=tf(10,"#444444"), ticks="outside", ticklen=6, tickcolor=NOTICK, showline=False))
fig.add_trace(go.Box(x=[0], width=.95, whiskerwidth=0, fillcolor="#EE7364", line=dict(color="#4d4d4d", width=1), showlegend=False, boxpoints=False, **j_key_treat, **j_key))
fig.add_trace(go.Box(x=[0], width=.95, whiskerwidth=0, fillcolor="#76CBDD", line=dict(color="#4d4d4d", width=1), showlegend=False, boxpoints=False, **j_key_untreat, **j_key))

def cbar(x, top, length, thick, vals, size, outline=0, tick="white", ticktext=None):
    return dict(x=x/W, xanchor="left", y=1-top/H, yanchor="top", len=length, lenmode="pixels", thickness=thick, thicknessmode="pixels",
                xpad=0, ypad=0, outlinewidth=outline, outlinecolor="black", tickmode="array", tickvals=vals, ticktext=ticktext or [str(v).replace("-","−") for v in vals],
                ticks="inside", ticklen=5, tickcolor=tick, tickwidth=1.5, tickfont=dict(size=size, color="black", family=SANS))

RB = [[0,"#0099CC"],[.25,"#8FBFE0"],[.5,"#FFFFFF"],[.75,"#F08A8A"],[1,"#C8042B"]]
DOTSCALE = [[0,"#340068"],[.18,"#3B4A8F"],[.33,"#35688F"],[.48,"#4F8F8A"],[.62,"#5AA970"],[.77,"#66C962"],[.89,"#C8D14A"],[1,"#F6CC35"]]
fig.update_layout(
    width=W, height=H, margin=dict(l=0,r=0,t=0,b=0,autoexpand=False), paper_bgcolor="white", plot_bgcolor="white",
    barmode="stack", boxmode="overlay", annotations=annotations, shapes=shapes, showlegend=False,
    font=dict(family=SANS),
    coloraxis=dict(colorscale=DOTSCALE, cmin=-1.62, cmax=1.78, colorbar=cbar(1373,270,153,31,[-1,0,1],17)),
    coloraxis2=dict(colorscale=RB, cmin=-2.2, cmax=2.2, colorbar=cbar(1930,516,157,31.5,[-2,-1,0,1,2],24)),
    coloraxis3=dict(colorscale="RdBu_r", cmin=-1.09, cmax=1.09, colorbar=cbar(1020,1370,94,23,[-1.0,-.5,0.0,.5,1.0],17,outline=1.5,tick="black",ticktext=["−1.0","−0.5","0.0","0.5","1.0"])),
    **layout_axes)
fig.write_html("out.html", post_script="document.body.style.margin='0';", config=dict(displayModeBar=False))
